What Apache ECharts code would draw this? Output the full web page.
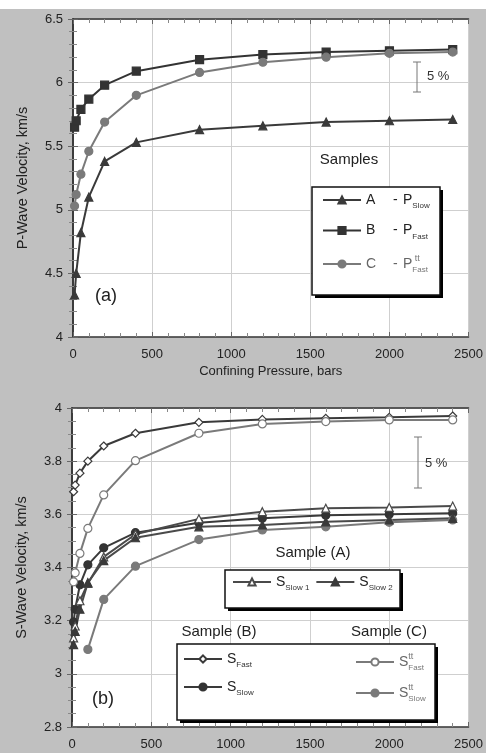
<!DOCTYPE html>
<html>
<head>
<meta charset="utf-8">
<script src="https://cdn.jsdelivr.net/npm/echarts@6/dist/echarts.min.js"></script>
<style>html,body{margin:0;padding:0;background:#c0c0c0;}#c{width:486px;height:753px;}</style>
</head>
<body>
<div id="c"></div>
<script>
// ---- data ----
const pressure = [10, 20, 50, 100, 200, 400, 800, 1200, 1600, 2000, 2400];
const pressureSlowC = [100, 200, 400, 800, 1200, 1600, 2000, 2400];
const xTicks = [0, 500, 1000, 1500, 2000, 2500];
const pTicks = [4, 4.5, 5, 5.5, 6, 6.5];
const sTicks = [2.8, 3, 3.2, 3.4, 3.6, 3.8, 4];

const pSlowA = [4.33, 4.50, 4.82, 5.10, 5.38, 5.53, 5.63, 5.66, 5.69, 5.70, 5.71];
const pFastB = [5.65, 5.70, 5.79, 5.87, 5.98, 6.09, 6.18, 6.22, 6.24, 6.25, 6.26];
const pFastC = [5.03, 5.12, 5.28, 5.46, 5.69, 5.90, 6.08, 6.16, 6.20, 6.23, 6.24];

const sFastB = [3.685, 3.71, 3.755, 3.80, 3.857, 3.905, 3.946, 3.957, 3.961, 3.965, 3.970];
const sSlowB = [3.195, 3.243, 3.335, 3.41, 3.474, 3.531, 3.568, 3.585, 3.597, 3.600, 3.604];
const sFastC = [3.346, 3.38, 3.453, 3.547, 3.673, 3.802, 3.905, 3.940, 3.949, 3.955, 3.955];
const sSlowC = [3.092, 3.28, 3.405, 3.505, 3.541, 3.553, 3.570, 3.579];
const sSlow1A = [3.135, 3.18, 3.275, 3.34, 3.44, 3.525, 3.583, 3.610, 3.623, 3.626, 3.631];
const sSlow2A = [3.11, 3.16, 3.243, 3.343, 3.426, 3.512, 3.553, 3.560, 3.572, 3.579, 3.585];

const pair = (xs, ys) => xs.map((x, i) => [x, ys[i]]);

const FONT = 'Liberation Sans, Arial, sans-serif';
const DARK = '#3a3a3a';
const GREY = '#7a7a7a';

function mainX(gi, showName) {
  return {
    type: 'value', gridIndex: gi, min: xTicks[0], max: xTicks[xTicks.length - 1], interval: 500,
    position: 'bottom',
    name: showName ? 'Confining Pressure, bars' : '', nameLocation: 'middle', nameGap: 28,
    nameTextStyle: { fontFamily: FONT, fontSize: 13, color: '#222' },
    axisLine: { show: true, lineStyle: { color: '#333', width: 1.5 } },
    axisTick: { show: true, inside: true, length: 5, lineStyle: { color: '#666' } },
    minorTick: { show: true, splitNumber: 5, length: 4, lineStyle: { color: '#888' } },
    axisLabel: { fontFamily: FONT, fontSize: 13, color: '#222', margin: 11, formatter: v => String(v) },
    splitLine: { show: true, lineStyle: { color: '#cfcfcf', width: 1 } }
  };
}
function mirrorX(gi) {
  return {
    type: 'value', gridIndex: gi, min: xTicks[0], max: xTicks[xTicks.length - 1], interval: 500,
    position: 'top',
    axisLine: { show: true, lineStyle: { color: '#333', width: 1.5 } },
    axisTick: { show: true, inside: true, length: 5, lineStyle: { color: '#666' } },
    minorTick: { show: true, splitNumber: 5, length: 4, lineStyle: { color: '#888' } },
    axisLabel: { show: false }, splitLine: { show: false }
  };
}
function mainY(gi, ticks, interval, minorSplit, name) {
  return {
    type: 'value', gridIndex: gi, min: ticks[0], max: ticks[ticks.length - 1], interval: interval,
    position: 'left',
    name: name, nameLocation: 'middle', nameGap: 43,
    nameTextStyle: { fontFamily: FONT, fontSize: 14.5, color: '#222' },
    axisLine: { show: true, lineStyle: { color: '#333', width: 1.5 } },
    axisTick: { show: true, inside: true, length: 5, lineStyle: { color: '#666' } },
    minorTick: { show: true, splitNumber: minorSplit, length: 4, lineStyle: { color: '#888' } },
    axisLabel: { fontFamily: FONT, fontSize: 13, color: '#222', margin: 10 },
    splitLine: { show: true, lineStyle: { color: '#cfcfcf', width: 1 } }
  };
}
function mirrorY(gi, ticks, interval, minorSplit) {
  return {
    type: 'value', gridIndex: gi, min: ticks[0], max: ticks[ticks.length - 1], interval: interval,
    position: 'right',
    axisLine: { show: true, lineStyle: { color: '#333', width: 1.5 } },
    axisTick: { show: true, inside: true, length: 5, lineStyle: { color: '#666' } },
    minorTick: { show: true, splitNumber: minorSplit, length: 4, lineStyle: { color: '#888' } },
    axisLabel: { show: false }, splitLine: { show: false }
  };
}

function lineSeries(name, data, xi, yi, lineColor, symbol, size, fill, border) {
  return {
    name: name, type: 'line', xAxisIndex: xi, yAxisIndex: yi, data: data,
    symbol: symbol, symbolSize: size, showSymbol: true,
    lineStyle: { color: lineColor, width: 2 },
    itemStyle: { color: fill, borderColor: border, borderWidth: 1.2 },
    emphasis: { disabled: true }, z: 3
  };
}

const subRich = {
  n: { fontFamily: FONT, fontSize: 14, width: 27, lineHeight: 20, color: '#222' },
  ng: { fontFamily: FONT, fontSize: 14, width: 27, lineHeight: 20, color: '#666' },
  d: { fontFamily: FONT, fontSize: 14, width: 10, lineHeight: 20, color: '#222' },
  dg: { fontFamily: FONT, fontSize: 14, width: 10, lineHeight: 20, color: '#666' },
  p: { fontFamily: FONT, fontSize: 14, lineHeight: 20, color: '#222' },
  pg: { fontFamily: FONT, fontSize: 14, lineHeight: 20, color: '#666' },
  sub: { fontFamily: FONT, fontSize: 8, lineHeight: 8, verticalAlign: 'bottom', color: '#333' },
  subg: { fontFamily: FONT, fontSize: 8, lineHeight: 8, verticalAlign: 'bottom', color: '#777' },
  sup: { fontFamily: FONT, fontSize: 9, lineHeight: 6, verticalAlign: 'top', color: '#777', width: 0 }
};
const legendText = {
  'A': '{n|A}{d|-}{p|P}{sub|Slow}',
  'B': '{n|B}{d|-}{p|P}{sub|Fast}',
  'C': '{ng|C}{dg|-}{pg|P}{sup| tt}{subg|Fast}',
  'S_Slow1': '{p|S}{sub|Slow 1}',
  'S_Slow2': '{p|S}{sub|Slow 2}',
  'S_FastB': '{p|S}{sub|Fast}',
  'S_SlowB': '{p|S}{sub|Slow}',
  'S_FastC': '{pg|S}{sup|tt}{subg|Fast}',
  'S_SlowC': '{pg|S}{sup|tt}{subg|Slow}'
};
function legend(data, left, top, orient, gap) {
  return {
    data: data, left: left, top: top, orient: orient, itemGap: gap,
    itemWidth: 38, itemHeight: 9, padding: 0, selectedMode: false,
    formatter: n => legendText[n],
    textStyle: { rich: subRich, fontFamily: FONT, fontSize: 14 },
    z: 10
  };
}

function box(x, y, w, h) {
  return [
    { type: 'rect', z: 5, shape: { x: x + 3, y: y + 3, width: w, height: h }, style: { fill: '#000' } },
    { type: 'rect', z: 5, shape: { x: x, y: y, width: w, height: h }, style: { fill: '#fff', stroke: '#111', lineWidth: 1.5 } }
  ];
}
function scaleBar(x, y1, y2, tx, ty) {
  return [
    { type: 'line', z: 5, shape: { x1: x, y1: y1, x2: x, y2: y2 }, style: { stroke: '#777', lineWidth: 1 } },
    { type: 'line', z: 5, shape: { x1: x - 4, y1: y1, x2: x + 4, y2: y1 }, style: { stroke: '#777', lineWidth: 1 } },
    { type: 'line', z: 5, shape: { x1: x - 4, y1: y2, x2: x + 4, y2: y2 }, style: { stroke: '#777', lineWidth: 1 } },
    { type: 'text', z: 5, x: tx, y: ty, style: { text: '5 %', fontFamily: FONT, fontSize: 13, fill: '#333', verticalAlign: 'middle' } }
  ];
}
function label(text, x, y, size, align) {
  return { type: 'text', z: 5, x: x, y: y, style: { text: text, fontFamily: FONT, fontSize: size, fill: '#222', align: align || 'center', verticalAlign: 'middle' } };
}

const chart = echarts.init(document.getElementById('c'), null, { renderer: 'canvas' });
chart.setOption({
  backgroundColor: '#c0c0c0',
  animation: false,
  grid: [
    { left: 73, right: 16, top: 19, height: 318, show: true, backgroundColor: '#fff', borderWidth: 0 },
    { left: 72, right: 16, top: 408, height: 319, show: true, backgroundColor: '#fff', borderWidth: 0 }
  ],
  xAxis: [mainX(0, true), mirrorX(0), mainX(1, false), mirrorX(1)],
  yAxis: [
    mainY(0, pTicks, 0.5, 5, 'P-Wave Velocity, km/s'), mirrorY(0, pTicks, 0.5, 5),
    mainY(1, sTicks, 0.2, 4, 'S-Wave Velocity, km/s'), mirrorY(1, sTicks, 0.2, 4)
  ],
  legend: [
    legend(['A', 'B', 'C'], 322, 193, 'vertical', 13.5),
    legend(['S_Slow1', 'S_Slow2'], 232, 575, 'horizontal', 6),
    legend(['S_FastB', 'S_SlowB'], 183, 652, 'vertical', 11),
    legend(['S_FastC', 'S_SlowC'], 355, 652, 'vertical', 11)
  ],
  series: [
    lineSeries('A', pair(pressure, pSlowA), 0, 0, DARK, 'triangle', 8, DARK, DARK),
    lineSeries('B', pair(pressure, pFastB), 0, 0, '#333', 'rect', 8, '#333', '#333'),
    lineSeries('C', pair(pressure, pFastC), 0, 0, GREY, 'circle', 8, GREY, GREY),
    lineSeries('S_FastB', pair(pressure, sFastB), 2, 2, DARK, 'diamond', 8, '#fff', DARK),
    lineSeries('S_SlowB', pair(pressure, sSlowB), 2, 2, DARK, 'circle', 8, '#333', '#333'),
    lineSeries('S_FastC', pair(pressure, sFastC), 2, 2, GREY, 'circle', 8, '#fff', GREY),
    lineSeries('S_SlowC', pair(pressureSlowC, sSlowC), 2, 2, GREY, 'circle', 8, GREY, GREY),
    lineSeries('S_Slow1', pair(pressure, sSlow1A), 2, 2, '#4a4a4a', 'triangle', 8, '#fff', '#4a4a4a'),
    lineSeries('S_Slow2', pair(pressure, sSlow2A), 2, 2, '#4a4a4a', 'triangle', 8, '#3a3a3a', '#3a3a3a')
  ],
  graphic: [
    { type: 'rect', z: 5, shape: { x: 0, y: 0, width: 486, height: 9 }, style: { fill: '#fff' } },
    ...box(312, 187, 128, 108),
    ...box(225, 570, 175, 38),
    ...box(177, 644, 258, 76),
    ...scaleBar(417, 62, 92, 427, 76),
    ...scaleBar(418, 437, 488, 425, 463),
    label('Samples', 349, 160, 15),
    label('(a)', 106, 296, 18),
    label('Sample (A)', 313, 553, 15),
    label('Sample (B)', 219, 632, 15),
    label('Sample (C)', 389, 632, 15),
    label('(b)', 103, 699, 18)
  ]
});
</script>
</body>
</html>
